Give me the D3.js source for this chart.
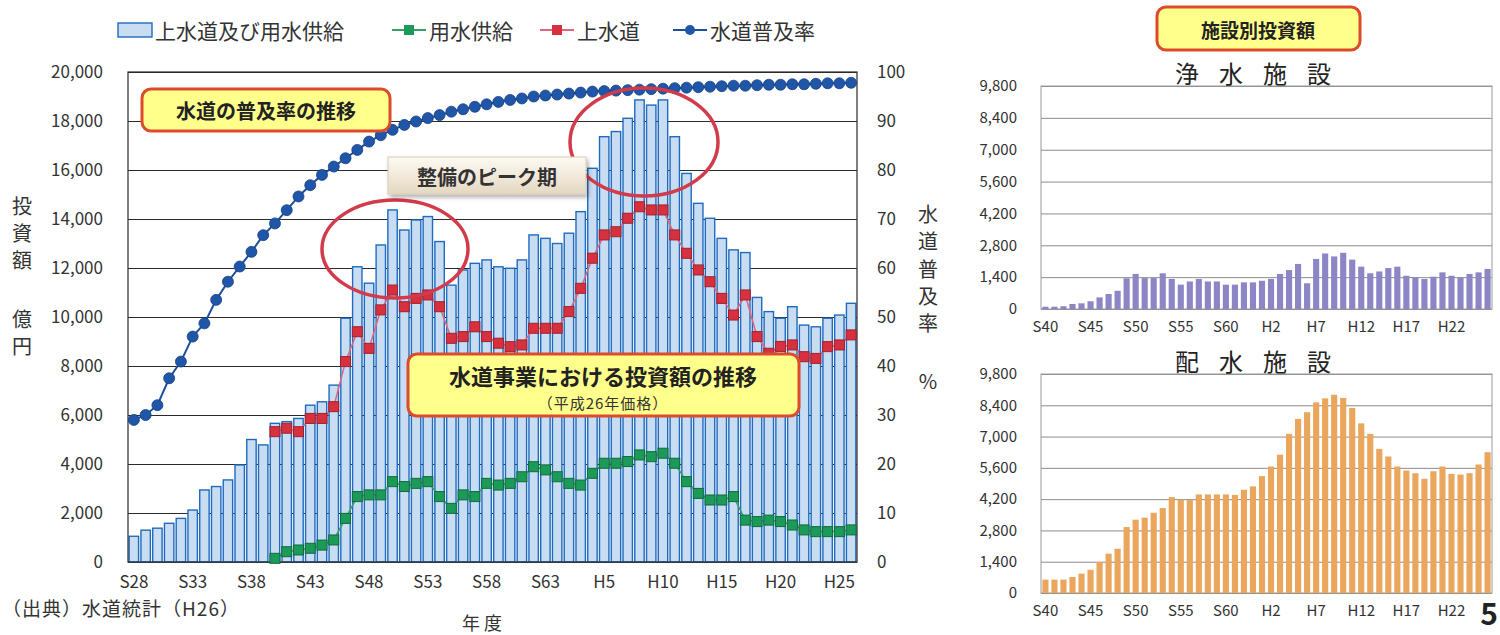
<!DOCTYPE html>
<html lang="ja">
<head>
<meta charset="UTF-8">
<title>水道事業における投資額の推移</title>
<script src="https://d3js.org/d3.v7.min.js"></script>
<style>
  body { margin: 0; background: #fff; }
  svg { display: block; font-family: "Noto Sans CJK JP", "Noto Sans", sans-serif; }
</style>
</head>
<body>
<script>
// 年度 (S28〜H26)
const years = ["S28","S29","S30","S31","S32","S33","S34","S35","S36","S37",
  "S38","S39","S40","S41","S42","S43","S44","S45","S46","S47",
  "S48","S49","S50","S51","S52","S53","S54","S55","S56","S57",
  "S58","S59","S60","S61","S62","S63","H1","H2","H3","H4",
  "H5","H6","H7","H8","H9","H10","H11","H12","H13","H14",
  "H15","H16","H17","H18","H19","H20","H21","H22","H23","H24",
  "H25","H26"];
const yearTicks = ["S28","S33","S38","S43","S48","S53","S58","S63","H5","H10","H15","H20","H25"];
const investTicks = [0, 2000, 4000, 6000, 8000, 10000, 12000, 14000, 16000, 18000, 20000];
const rateTicks = [0, 10, 20, 30, 40, 50, 60, 70, 80, 90, 100];

// 上水道及び用水供給 (億円)
const totalInvest = [1050, 1300, 1380, 1580, 1780, 2120, 2940, 3080, 3350, 3960,
  5000, 4780, 5660, 5730, 5860, 6400, 6540, 7220, 9950, 12050,
  11380, 12940, 14370, 13550, 13960, 14100, 13080, 11300, 11920, 12190,
  12330, 12050, 11990, 12330, 13350, 13210, 13000, 13420, 14300, 16070,
  17360, 17570, 18110, 18860, 18650, 18860, 17360, 15860, 14640, 14030,
  13210, 12740, 12630, 10800, 10220, 9950, 10420, 9670, 9600, 9950,
  10080, 10560];
// 上水道 (億円)
const josuido = [null, null, null, null, null, null, null, null, null, null,
  null, null, 5320, 5460, 5320, 5860, 5860, 6340, 8180, 9400,
  8720, 10290, 11100, 10420, 10760, 10900, 10420, 9130, 9200, 9600,
  9200, 8930, 8790, 8860, 9540, 9540, 9540, 10220, 11170, 12400,
  13350, 13480, 14030, 14500, 14370, 14370, 13350, 12600, 11920, 11440,
  10760, 10080, 10900, 9200, 8520, 8800, 8860, 8380, 8310, 8790,
  8860, 9270];
// 用水供給 (億円)
const yosui = [null, null, null, null, null, null, null, null, null, null,
  null, null, 150, 420, 490, 560, 690, 900, 1780, 2670,
  2740, 2740, 3280, 3080, 3210, 3280, 2670, 2190, 2740, 2670,
  3210, 3140, 3210, 3480, 3890, 3760, 3480, 3210, 3140, 3620,
  4030, 4030, 4100, 4370, 4300, 4440, 4030, 3280, 2800, 2530,
  2530, 2670, 1710, 1650, 1710, 1650, 1510, 1310, 1240, 1240,
  1240, 1310];
// 水道普及率 (%)
const fukyuritsu = [29.0, 30.0, 32.0, 37.5, 40.9, 46.0, 48.7, 53.5, 57.2, 60.3,
  63.3, 66.7, 69.1, 71.8, 74.6, 76.9, 79.0, 80.7, 82.4, 84.1,
  85.8, 87.1, 88.2, 89.2, 89.9, 90.6, 91.2, 91.9, 92.4, 92.9,
  93.4, 93.9, 94.3, 94.6, 95.0, 95.2, 95.4, 95.6, 95.8, 96.0,
  96.1, 96.2, 96.3, 96.4, 96.5, 96.6, 96.7, 96.8, 96.9, 97.0,
  97.1, 97.2, 97.2, 97.3, 97.4, 97.4, 97.5, 97.5, 97.6, 97.7,
  97.7, 97.8];

// 施設別投資額 (S40〜H26)
const subYears = ["S40","S41","S42","S43","S44","S45","S46","S47","S48","S49",
  "S50","S51","S52","S53","S54","S55","S56","S57","S58","S59",
  "S60","S61","S62","S63","H1","H2","H3","H4","H5","H6",
  "H7","H8","H9","H10","H11","H12","H13","H14","H15","H16",
  "H17","H18","H19","H20","H21","H22","H23","H24","H25","H26"];
const subYearTicks = ["S40","S45","S50","S55","S60","H2","H7","H12","H17","H22"];
const subTicks = [0, 1400, 2800, 4200, 5600, 7000, 8400, 9800];
const josuiShisetsu = [100, 100, 120, 220, 250, 340, 510, 660, 800, 1350,
  1540, 1360, 1360, 1570, 1320, 1070, 1210, 1320, 1210, 1210,
  1070, 1070, 1170, 1170, 1240, 1320, 1540, 1710, 1980, 1130,
  2200, 2440, 2310, 2470, 2170, 1860, 1570, 1650, 1800, 1860,
  1460, 1390, 1320, 1420, 1610, 1460, 1390, 1540, 1610, 1760];
const haisuiShisetsu = [600, 600, 600, 715, 865, 1040, 1385, 1760, 1980, 2950,
  3280, 3370, 3590, 3800, 4290, 4170, 4170, 4410, 4410, 4410,
  4410, 4390, 4620, 4770, 5230, 5660, 6190, 7120, 7790, 8090,
  8530, 8710, 8870, 8730, 8280, 7590, 7120, 6450, 6110, 5660,
  5480, 5360, 5110, 5450, 5660, 5330, 5300, 5360, 5750, 6300];

const W = 1500, H = 635;
const svg = d3.select("body").append("svg").attr("width", W).attr("height", H);

const defs = svg.append("defs");
const grad = defs.append("linearGradient").attr("id", "beige").attr("x1", 0).attr("y1", 0).attr("x2", 0).attr("y2", 1);
grad.append("stop").attr("offset", "0%").attr("stop-color", "#fdfaf3");
grad.append("stop").attr("offset", "100%").attr("stop-color", "#e4d8c2");
defs.append("filter").attr("id", "shadow").attr("x", "-10%").attr("y", "-20%").attr("width", "130%").attr("height", "160%")
  .append("feDropShadow").attr("dx", 2).attr("dy", 3).attr("stdDeviation", 2).attr("flood-color", "#000").attr("flood-opacity", 0.3);

// ===== main chart =====
const m = { left: 128, right: 857, top: 72, bottom: 562 };

const x = d3.scaleBand().domain(years).range([m.left, m.right]).paddingInner(0.2).paddingOuter(0.1);
const y = d3.scaleLinear().domain([0, 20000]).range([m.bottom, m.top]);
const yR = d3.scaleLinear().domain([0, 100]).range([m.bottom, m.top]);
const cx = d => x(d) + x.bandwidth() / 2;

// gridlines
svg.append("g")
  .attr("transform", `translate(${m.left},0)`)
  .call(d3.axisLeft(y).tickValues(investTicks).tickSize(-(m.right - m.left)).tickFormat(""))
  .call(g => g.select(".domain").remove())
  .selectAll("line").attr("stroke", "#2b2b2b");

// bars
svg.append("g").selectAll("rect")
  .data(years.map((yr, i) => ({ yr, v: totalInvest[i] })))
  .join("rect")
  .attr("x", d => x(d.yr))
  .attr("y", d => y(d.v))
  .attr("width", x.bandwidth())
  .attr("height", d => m.bottom - y(d.v))
  .attr("fill", "#c8dcf2")
  .attr("stroke", "#1f6bbf")
  .attr("stroke-width", 1.4);

// frame
svg.append("rect")
  .attr("x", m.left).attr("y", m.top)
  .attr("width", m.right - m.left).attr("height", m.bottom - m.top)
  .attr("fill", "none").attr("stroke", "#2b2b2b").attr("stroke-width", 1.2);

// axes
svg.append("g")
  .attr("transform", `translate(${m.left},0)`)
  .call(d3.axisLeft(y).tickValues(investTicks).tickFormat(d3.format(",")).tickSize(0).tickPadding(25))
  .attr("font-family", null).attr("font-size", 17)
  .call(g => g.select(".domain").remove())
  .selectAll("text").attr("fill", "#333");

svg.append("g")
  .attr("transform", `translate(${m.right},0)`)
  .call(d3.axisRight(yR).tickValues(rateTicks).tickSize(0).tickPadding(20))
  .attr("font-family", null).attr("font-size", 17)
  .call(g => g.select(".domain").remove())
  .selectAll("text").attr("fill", "#333");

svg.append("g")
  .attr("transform", `translate(0,${m.bottom})`)
  .call(d3.axisBottom(x).tickValues(yearTicks).tickSize(0).tickPadding(14))
  .attr("font-family", null).attr("font-size", 17)
  .call(g => g.select(".domain").remove())
  .selectAll("text").attr("fill", "#333");

// lines + markers
function drawSeries(values, scale, lineColor, lineWidth, marker) {
  const pts = years.map((yr, i) => ({ yr, v: values[i] })).filter(d => d.v != null);
  const line = d3.line().x(d => cx(d.yr)).y(d => scale(d.v));
  svg.append("path").datum(pts)
    .attr("d", line).attr("fill", "none")
    .attr("stroke", lineColor).attr("stroke-width", lineWidth);
  const g = svg.append("g");
  if (marker.shape === "square") {
    g.selectAll("rect").data(pts).join("rect")
      .attr("x", d => cx(d.yr) - 5).attr("y", d => scale(d.v) - 5)
      .attr("width", 10).attr("height", 10)
      .attr("fill", marker.fill).attr("stroke", marker.stroke).attr("stroke-width", 1);
  } else {
    g.selectAll("circle").data(pts).join("circle")
      .attr("cx", d => cx(d.yr)).attr("cy", d => scale(d.v)).attr("r", 5.5)
      .attr("fill", marker.fill).attr("stroke", marker.stroke).attr("stroke-width", 0.8);
  }
}
drawSeries(yosui, y, "#3a9d66", 1.5, { shape: "square", fill: "#1b9a5a", stroke: "#0f6b3b" });
drawSeries(josuido, y, "#e06680", 1.5, { shape: "square", fill: "#d7303f", stroke: "#9b2330" });
drawSeries(fukyuritsu, yR, "#1c4f9c", 2, { shape: "circle", fill: "#1f56a8", stroke: "#173f82" });

// legend
const lg = svg.append("g").attr("font-size", 21).attr("fill", "#333");
lg.append("rect").attr("x", 118).attr("y", 23).attr("width", 34).attr("height", 14)
  .attr("fill", "#c8dcf2").attr("stroke", "#1f6bbf").attr("stroke-width", 1.4);
lg.append("text").attr("x", 155).attr("y", 30).attr("dominant-baseline", "central").text("上水道及び用水供給");
[
  { x0: 392, color: "#3a9d66", fill: "#1b9a5a", label: "用水供給", shape: "square" },
  { x0: 540, color: "#e06680", fill: "#d7303f", label: "上水道", shape: "square" },
  { x0: 673, color: "#1c4f9c", fill: "#1f56a8", label: "水道普及率", shape: "circle" }
].forEach(it => {
  lg.append("line").attr("x1", it.x0).attr("x2", it.x0 + 34).attr("y1", 30).attr("y2", 30)
    .attr("stroke", it.color).attr("stroke-width", 2);
  if (it.shape === "square") {
    lg.append("rect").attr("x", it.x0 + 12).attr("y", 25).attr("width", 10).attr("height", 10).attr("fill", it.fill);
  } else {
    lg.append("circle").attr("cx", it.x0 + 17).attr("cy", 30).attr("r", 5).attr("fill", it.fill);
  }
  lg.append("text").attr("x", it.x0 + 37).attr("y", 30).attr("dominant-baseline", "central").text(it.label);
});

// axis titles
const leftTitle = [["投", 205], ["資", 232], ["額", 259], ["億", 318], ["円", 345]];
svg.append("g").selectAll("text").data(leftTitle).join("text")
  .attr("x", 22).attr("y", d => d[1]).attr("text-anchor", "middle").attr("dominant-baseline", "central")
  .attr("font-size", 20).attr("fill", "#333").text(d => d[0]);
const rightTitle = [["水", 213], ["道", 240], ["普", 268], ["及", 295], ["率", 322], ["%", 380]];
svg.append("g").selectAll("text").data(rightTitle).join("text")
  .attr("x", 928).attr("y", d => d[1]).attr("text-anchor", "middle").attr("dominant-baseline", "central")
  .attr("font-size", 20).attr("fill", "#333").text(d => d[0]);

svg.append("text").attr("x", 482).attr("y", 630).attr("text-anchor", "middle")
  .attr("font-size", 18).attr("fill", "#333").text("年 度");
svg.append("text").attr("x", 2).attr("y", 616)
  .attr("font-size", 19).attr("letter-spacing", 1).attr("fill", "#333").text("（出典）水道統計（H26）");

// annotations
svg.append("ellipse").attr("cx", 395).attr("cy", 249).attr("rx", 73).attr("ry", 49)
  .attr("fill", "none").attr("stroke", "#d13b4b").attr("stroke-width", 3.5);
svg.append("ellipse").attr("cx", 644).attr("cy", 142).attr("rx", 74).attr("ry", 54)
  .attr("fill", "none").attr("stroke", "#d13b4b").attr("stroke-width", 3.5);

function yellowBox(x0, y0, w, h) {
  svg.append("rect").attr("x", x0).attr("y", y0).attr("width", w).attr("height", h)
    .attr("rx", 9).attr("fill", "#ffff8c").attr("stroke", "#dc4b2b").attr("stroke-width", 3);
}
yellowBox(142, 89, 248, 42);
svg.append("text").attr("x", 266).attr("y", 110).attr("text-anchor", "middle").attr("dominant-baseline", "central")
  .attr("font-size", 20).attr("font-weight", "bold").attr("fill", "#222").text("水道の普及率の推移");

svg.append("rect").attr("x", 388).attr("y", 157).attr("width", 198).attr("height", 37)
  .attr("fill", "url(#beige)").attr("stroke", "#d8ccb6").attr("filter", "url(#shadow)");
svg.append("text").attr("x", 487).attr("y", 176).attr("text-anchor", "middle").attr("dominant-baseline", "central")
  .attr("font-size", 20).attr("font-weight", "bold").attr("fill", "#333").text("整備のピーク期");

yellowBox(408, 354, 391, 62);
svg.append("text").attr("x", 603).attr("y", 375).attr("text-anchor", "middle").attr("dominant-baseline", "central")
  .attr("font-size", 22).attr("font-weight", "bold").attr("fill", "#222").text("水道事業における投資額の推移");
svg.append("text").attr("x", 603).attr("y", 402).attr("text-anchor", "middle").attr("dominant-baseline", "central")
  .attr("font-size", 15).attr("letter-spacing", 1).attr("fill", "#333").text("（平成26年価格）");

// ===== 施設別投資額 =====
yellowBox(1157, 7, 203, 43);
svg.append("text").attr("x", 1258).attr("y", 29).attr("text-anchor", "middle").attr("dominant-baseline", "central")
  .attr("font-size", 19).attr("font-weight", "bold").attr("fill", "#222").text("施設別投資額");

function drawSub(top, bottom, values, color, title) {
  const xs = d3.scaleBand().domain(subYears).range([1041, 1492]).paddingInner(0.32).paddingOuter(0.15);
  const ys = d3.scaleLinear().domain([0, 9800]).range([bottom, top]);

  svg.append("g")
    .attr("transform", "translate(1041,0)")
    .call(d3.axisLeft(ys).tickValues(subTicks).tickSize(-451).tickFormat(""))
    .call(g => g.select(".domain").remove())
    .selectAll("line").attr("stroke", "#8c8c8c");

  svg.append("rect").attr("x", 1041).attr("y", top).attr("width", 451).attr("height", bottom - top)
    .attr("fill", "none").attr("stroke", "#9a9a9a");

  svg.append("g").selectAll("rect")
    .data(subYears.map((yr, i) => ({ yr, v: values[i] })))
    .join("rect")
    .attr("x", d => xs(d.yr)).attr("y", d => ys(d.v))
    .attr("width", xs.bandwidth()).attr("height", d => bottom - ys(d.v))
    .attr("fill", color);

  svg.append("g")
    .attr("transform", "translate(1041,0)")
    .call(d3.axisLeft(ys).tickValues(subTicks).tickFormat(d3.format(",")).tickSize(0).tickPadding(24))
    .attr("font-family", null).attr("font-size", 15)
    .call(g => g.select(".domain").remove())
    .selectAll("text").attr("fill", "#333");

  svg.append("g")
    .attr("transform", `translate(0,${bottom})`)
    .call(d3.axisBottom(xs).tickValues(subYearTicks).tickSize(0).tickPadding(12))
    .attr("font-family", null).attr("font-size", 15)
    .call(g => g.select(".domain").remove())
    .selectAll("text").attr("fill", "#333");

  // spaced-out title characters
  const chars = Array.from(title);
  svg.append("g").selectAll("text").data(chars).join("text")
    .attr("x", (c, k) => 1253 + (k - (chars.length - 1) / 2) * 44)
    .attr("y", top - 3).attr("text-anchor", "middle")
    .attr("font-size", 24).attr("fill", "#222").text(c => c);
}
drawSub(86, 309, josuiShisetsu, "#8c86c6", "浄水施設");
drawSub(374, 593, haisuiShisetsu, "#e9a65c", "配水施設");

svg.append("text").attr("x", 1489).attr("y", 625).attr("text-anchor", "middle")
  .attr("font-size", 30).attr("font-weight", "bold").attr("fill", "#222").text("5");
</script>
</body>
</html>
